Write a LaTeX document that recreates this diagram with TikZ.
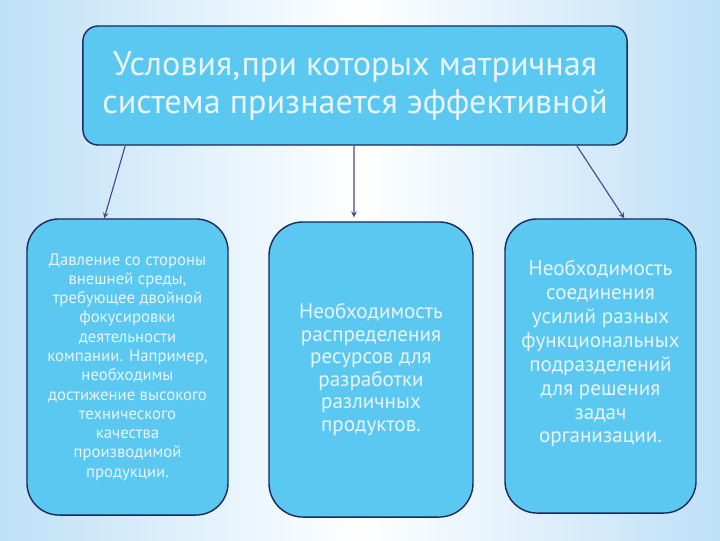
\documentclass[tikz,border=0pt]{standalone}
\usepackage{fontspec}
\setmainfont{PT Sans}

\definecolor{fon}{RGB}{190,224,247}
\definecolor{zalivka}{RGB}{90,200,241}
\definecolor{kontur}{RGB}{26,42,90}
\definecolor{tekst}{RGB}{232,245,251}
\definecolor{strelka}{RGB}{72,72,140}

\tikzset{
    blok/.style={draw=kontur, line width=1pt, fill=zalivka, text=tekst, align=center, inner sep=2pt},
    strelka/.style={->, draw=strelka, line width=0.8pt}
}

\begin{document}
\begin{tikzpicture}[x=0.025cm, y=-0.025cm, >=stealth]

    % Фон слайда
    \shade[left color=fon, right color=fon, middle color=white] (0,0) rectangle (720,540);

    % Верхний блок
    \node[blok, minimum width=13.6cm, minimum height=2.975cm, rounded corners=0.38cm,
          font=\fontsize{24.3}{27}\selectfont] (usl) at (355,85.5)
        {Условия,при которых матричная\\система признается эффективной};

    % Нижние блоки
    \node[blok, minimum width=5.025cm, minimum height=7.4cm, rounded corners=0.8cm,
          font=\fontsize{11.9}{13.7}\selectfont] (davl) at (127.5,367)
        {Давление со стороны\\внешней среды,\\требующее двойной\\фокусировки\\деятельности\\компании. Например,\\необходимы\\достижение высокого\\технического\\качества\\производимой\\продукции.};

    \node[blok, minimum width=5.1cm, minimum height=7.375cm, rounded corners=0.85cm,
          font=\fontsize{15}{16}\selectfont] (resu) at (371,369.5)
        {Необходимость\\распределения\\ресурсов для\\разработки\\различных\\продуктов.};

    \node[blok, minimum width=4.775cm, minimum height=7.35cm, rounded corners=0.8cm,
          font=\fontsize{15}{17}\selectfont] (soed) at (600.5,366)
        {Необходимость\\соединения\\усилий разных\\функциональных\\подразделений\\для решения\\задач\\организации.\\[0.12cm]};

    % Стрелки
    \draw[strelka] ([xshift=1.075cm]usl.south west) -- ([xshift=1.95cm]davl.north west);
    \draw[strelka] ([xshift=-0.025cm]usl.south) -- ([xshift=-0.425cm, yshift=0.1cm]resu.north);
    \draw[strelka] ([xshift=-1.275cm]usl.south east) -- ([xshift=3cm]soed.north west);
\end{tikzpicture}
\end{document}
